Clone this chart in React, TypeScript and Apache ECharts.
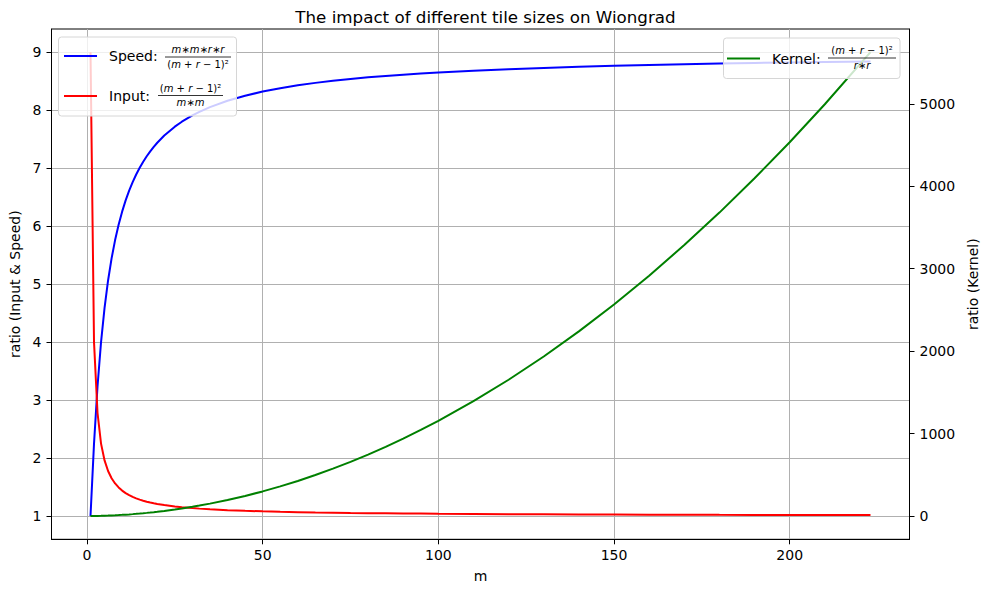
import React, { useEffect, useRef } from "react";
import * as echarts from "echarts";

// tile size m (r = 3)
const M = [1, 2, 3, 4, 5, 6, 7, 8, 9, 10, 11, 12, 13, 14, 15, 16, 17, 18, 19, 20, 22, 25, 27, 30, 32, 35, 40, 45, 50, 55, 60, 65, 70, 75, 80, 85, 90, 95, 100, 110, 120, 130, 140, 150, 160, 170, 180, 190, 200, 210, 223];
const SPEED = [1, 2.25, 3.24, 4, 4.592, 5.063, 5.444, 5.76, 6.025, 6.25, 6.444, 6.612, 6.76, 6.891, 7.007, 7.111, 7.205, 7.29, 7.367, 7.438, 7.563, 7.716, 7.801, 7.91, 7.972, 8.053, 8.163, 8.25, 8.321, 8.38, 8.429, 8.471, 8.507, 8.539, 8.566, 8.591, 8.613, 8.633, 8.651, 8.681, 8.707, 8.729, 8.748, 8.765, 8.779, 8.792, 8.803, 8.814, 8.823, 8.831, 8.841];
const INPUT = [9, 4, 2.778, 2.25, 1.96, 1.778, 1.653, 1.563, 1.494, 1.44, 1.397, 1.361, 1.331, 1.306, 1.284, 1.266, 1.249, 1.235, 1.222, 1.21, 1.19, 1.166, 1.154, 1.138, 1.129, 1.118, 1.103, 1.091, 1.082, 1.074, 1.068, 1.062, 1.058, 1.054, 1.051, 1.048, 1.045, 1.043, 1.04, 1.037, 1.034, 1.031, 1.029, 1.027, 1.025, 1.024, 1.022, 1.021, 1.02, 1.019, 1.018];
const KERNEL = [1, 1.78, 2.78, 4, 5.44, 7.11, 9, 11.1, 13.4, 16, 18.8, 21.8, 25, 28.4, 32.1, 36, 40.1, 44.4, 49, 53.8, 64, 81, 93.4, 113.8, 128.4, 152.1, 196, 245.4, 300.4, 361, 427.1, 498.8, 576, 658.8, 747.1, 841, 940.4, 1045.4, 1156, 1393.8, 1653.8, 1936, 2240.4, 2567.1, 2916, 3287.1, 3680.4, 4096, 4533.8, 4993.8, 5625];

const X_TICKS = [0, 50, 100, 150, 200];
const Y_LEFT_TICKS = [1, 2, 3, 4, 5, 6, 7, 8, 9];
const Y_RIGHT_TICKS = [0, 1000, 2000, 3000, 4000, 5000];

const FONT = "DejaVu Sans";

function fraction(cx: number, yNum: number, yBar: number, yDen: number, x1: number, x2: number, num: string, den: string) {
  const rich = { i: { fontStyle: "italic", fontFamily: FONT, fontSize: 10, fill: "#000" }, n: { fontFamily: FONT, fontSize: 10, fill: "#000" } };
  return [
    { type: "text", x: cx, y: yNum, z: 101, style: { text: num, rich, fontFamily: FONT, fontSize: 10, fill: "#000", align: "center", verticalAlign: "middle" } },
    { type: "line", z: 101, shape: { x1, y1: yBar, x2, y2: yBar }, style: { stroke: "#000", lineWidth: 0.8 } },
    { type: "text", x: cx, y: yDen, z: 101, style: { text: den, rich, fontFamily: FONT, fontSize: 10, fill: "#000", align: "center", verticalAlign: "middle" } },
  ];
}

export default function App() {
  const ref = useRef<HTMLDivElement>(null);
  useEffect(() => {
    if (!ref.current) return;
    const chart = echarts.init(ref.current, null, { renderer: "svg" });
    const axisLabelStyle = { color: "#000", fontFamily: FONT, fontSize: 14 };
    const denMR = "{n|(}{i|m}{n| + }{i|r}{n| − 1)²}";
    const lineCommon = { type: "line", showSymbol: false, z: 3 };
    const option: any = {
      animation: false,
      backgroundColor: "#fff",
      title: {
        text: "The impact of different tile sizes on Wiongrad",
        left: 480.5,
        top: 3,
        textAlign: "center",
        textStyle: { fontFamily: FONT, fontSize: 16.7, fontWeight: "normal", color: "#000" },
      },
      grid: { left: 51.5, right: 74.5, top: 29, bottom: 50.7, containLabel: false, outerBoundsMode: "none", show: true, borderColor: "#000", borderWidth: 1, backgroundColor: "transparent" },
      xAxis: {
        type: "value",
        min: -10.1,
        max: 234.1,
        name: "m",
        nameLocation: "middle",
        nameGap: 30,
        nameTextStyle: { fontFamily: FONT, fontSize: 14, color: "#000" },
        axisLine: { show: true, onZero: false, lineStyle: { color: "#000", width: 1 } },
        axisTick: { show: true, length: 5, customValues: X_TICKS, lineStyle: { color: "#000" } },
        axisLabel: { ...axisLabelStyle, margin: 9, customValues: X_TICKS },
        splitLine: { show: true, lineStyle: { color: "#b0b0b0", width: 1 } },
      },
      yAxis: [
        {
          type: "value",
          position: "left",
          min: 0.6,
          max: 9.4,
          name: "ratio (Input & Speed)",
          nameLocation: "middle",
          nameGap: 30,
          nameTextStyle: { fontFamily: FONT, fontSize: 14, color: "#000" },
          axisLine: { show: true, onZero: false, lineStyle: { color: "#000", width: 1 } },
          axisTick: { show: true, length: 5, customValues: Y_LEFT_TICKS, lineStyle: { color: "#000" } },
          axisLabel: { ...axisLabelStyle, margin: 10, customValues: Y_LEFT_TICKS },
          splitLine: { show: true, lineStyle: { color: "#b0b0b0", width: 1 } },
        },
        {
          type: "value",
          position: "right",
          min: -280.2,
          max: 5906.2,
          name: "ratio (Kernel)",
          nameLocation: "middle",
          nameGap: 53.5,
          nameRotate: 90,
          nameTextStyle: { fontFamily: FONT, fontSize: 14, color: "#000" },
          axisLine: { show: true, onZero: false, lineStyle: { color: "#000", width: 1 } },
          axisTick: { show: true, length: 5, customValues: Y_RIGHT_TICKS, lineStyle: { color: "#000" } },
          axisLabel: { ...axisLabelStyle, margin: 10, customValues: Y_RIGHT_TICKS, formatter: (v: number) => String(v) },
          splitLine: { show: false },
        },
      ],
      series: [
        { ...lineCommon, name: "Speed", yAxisIndex: 0, data: M.map((m, i) => [m, SPEED[i]]), lineStyle: { color: "#0000ff", width: 2 }, itemStyle: { color: "#0000ff" } },
        { ...lineCommon, name: "Input", yAxisIndex: 0, data: M.map((m, i) => [m, INPUT[i]]), lineStyle: { color: "#ff0000", width: 2 }, itemStyle: { color: "#ff0000" } },
        { ...lineCommon, name: "Kernel", yAxisIndex: 1, data: M.map((m, i) => [m, KERNEL[i]]), lineStyle: { color: "#008000", width: 2 }, itemStyle: { color: "#008000" } },
      ],
      graphic: [
        // left legend
        { type: "rect", z: 100, shape: { x: 58.5, y: 37, width: 178, height: 79, r: 3 }, style: { fill: "rgba(255,255,255,0.8)", stroke: "#d6d6d6", lineWidth: 1 } },
        { type: "line", z: 101, shape: { x1: 64, y1: 56, x2: 97, y2: 56 }, style: { stroke: "#0000ff", lineWidth: 2 } },
        { type: "text", x: 109, y: 56, z: 101, style: { text: "Speed:", fontFamily: FONT, fontSize: 14, fill: "#000", verticalAlign: "middle" } },
        ...fraction(198, 49.5, 57, 64.5, 165, 231, "{i|m}{n|∗}{i|m}{n|∗}{i|r}{n|∗}{i|r}", denMR),
        { type: "line", z: 101, shape: { x1: 64, y1: 96, x2: 97, y2: 96 }, style: { stroke: "#ff0000", lineWidth: 2 } },
        { type: "text", x: 109, y: 96, z: 101, style: { text: "Input:", fontFamily: FONT, fontSize: 14, fill: "#000", verticalAlign: "middle" } },
        ...fraction(190.5, 88, 95.5, 102.5, 158, 223, denMR, "{i|m}{n|∗}{i|m}"),
        // right legend
        { type: "rect", z: 100, shape: { x: 723.5, y: 38, width: 176.5, height: 40.5, r: 3 }, style: { fill: "rgba(255,255,255,0.8)", stroke: "#d6d6d6", lineWidth: 1 } },
        { type: "line", z: 101, shape: { x1: 727, y1: 58.5, x2: 760, y2: 58.5 }, style: { stroke: "#008000", lineWidth: 2 } },
        { type: "text", x: 772, y: 58.5, z: 101, style: { text: "Kernel:", fontFamily: FONT, fontSize: 14, fill: "#000", verticalAlign: "middle" } },
        ...fraction(862, 50.5, 58, 65.5, 828, 896, denMR, "{i|r}{n|∗}{i|r}"),
      ],
    };
    chart.setOption(option);
    return () => chart.dispose();
  }, []);
  return <div ref={ref} style={{ width: 984, height: 590, position: "absolute", left: 0, top: 0 }} />;
}
